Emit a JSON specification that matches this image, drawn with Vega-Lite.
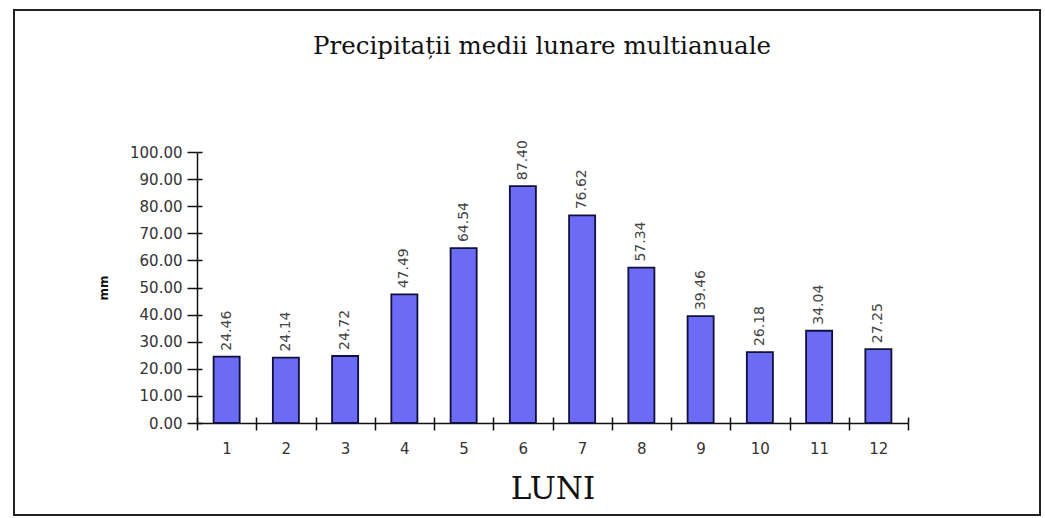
{
  "$schema": "https://vega.github.io/schema/vega-lite/v6.json",
  "width": 1026,
  "height": 505,
  "autosize": {"type": "none"},
  "padding": {"left": 14, "top": 10, "right": 5, "bottom": 3},
  "background": "white",
  "config": {
    "view": {"stroke": "#222", "strokeWidth": 2},
    "font": "DejaVu Sans"
  },
  "title": {
    "text": "Precipitații medii lunare multianuale",
    "font": "DejaVu Serif",
    "fontSize": 24.5,
    "fontWeight": "normal",
    "color": "#111",
    "anchor": "middle",
    "frame": "group",
    "baseline": "alphabetic",
    "offset": -68,
    "dx": 15
  },
  "data": {
    "values": [
      {"luna": 1, "mm": 24.46},
      {"luna": 2, "mm": 24.14},
      {"luna": 3, "mm": 24.72},
      {"luna": 4, "mm": 47.49},
      {"luna": 5, "mm": 64.54},
      {"luna": 6, "mm": 87.40},
      {"luna": 7, "mm": 76.62},
      {"luna": 8, "mm": 57.34},
      {"luna": 9, "mm": 39.46},
      {"luna": 10, "mm": 26.18},
      {"luna": 11, "mm": 34.04},
      {"luna": 12, "mm": 27.25}
    ]
  },
  "resolve": {"axis": {"x": "independent", "y": "independent"}},
  "layer": [
    {
      "mark": {
        "type": "bar",
        "width": {"band": 0.44},
        "fill": "#6b6bf5",
        "stroke": "#10103a",
        "strokeWidth": 1.8
      },
      "encoding": {
        "x": {
          "field": "luna",
          "type": "ordinal",
          "scale": {"range": [183, 894], "paddingInner": 0, "paddingOuter": 0},
          "axis": {
            "title": "LUNI",
            "titleFont": "DejaVu Serif",
            "titleFontSize": 31,
            "titleFontWeight": "normal",
            "titleColor": "#111",
            "titleY": 75,
            "titleBaseline": "alphabetic",
            "labelAngle": 0,
            "labelFont": "DejaVu Sans",
            "labelFontSize": 15,
            "labelColor": "#333",
            "labelPadding": 11,
            "tickBand": "extent",
            "tickSize": 7,
            "tickColor": "#111",
            "tickWidth": 1.5,
            "domainColor": "#111",
            "domainWidth": 1.5,
            "offset": -92,
            "grid": false
          }
        },
        "y": {
          "field": "mm",
          "type": "quantitative",
          "scale": {"domain": [0, 100], "range": [413, 142], "nice": false},
          "axis": {
            "title": "mm",
            "titleFont": "DejaVu Sans",
            "titleFontSize": 12,
            "titleFontWeight": "bold",
            "titleColor": "#111",
            "titleX": -90,
            "titleBaseline": "alphabetic",
            "titleAngle": -90,
            "values": [0, 10, 20, 30, 40, 50, 60, 70, 80, 90, 100],
            "format": ".2f",
            "labelFont": "DejaVu Sans",
            "labelFontSize": 15,
            "labelColor": "#333",
            "labelPadding": 5,
            "tickSize": 10,
            "tickColor": "#111",
            "tickWidth": 1.5,
            "domainColor": "#111",
            "domainWidth": 1.5,
            "offset": -183,
            "grid": false
          }
        }
      }
    },
    {
      "mark": {
        "type": "text",
        "angle": -90,
        "align": "left",
        "baseline": "middle",
        "dx": 6,
        "font": "DejaVu Sans",
        "fontSize": 14,
        "color": "#444"
      },
      "encoding": {
        "x": {
          "field": "luna",
          "type": "ordinal",
          "axis": {
            "orient": "bottom",
            "title": null,
            "labels": false,
            "domain": false,
            "tickBand": "extent",
            "tickSize": -6,
            "tickColor": "#111",
            "tickWidth": 1.5,
            "offset": -92,
            "grid": false
          }
        },
        "y": {
          "field": "mm",
          "type": "quantitative",
          "axis": {
            "orient": "left",
            "title": null,
            "labels": false,
            "domain": false,
            "values": [0, 10, 20, 30, 40, 50, 60, 70, 80, 90, 100],
            "tickSize": -5,
            "tickColor": "#111",
            "tickWidth": 1.5,
            "offset": -183,
            "grid": false
          }
        },
        "text": {"field": "mm", "type": "quantitative", "format": ".2f"}
      }
    }
  ]
}
